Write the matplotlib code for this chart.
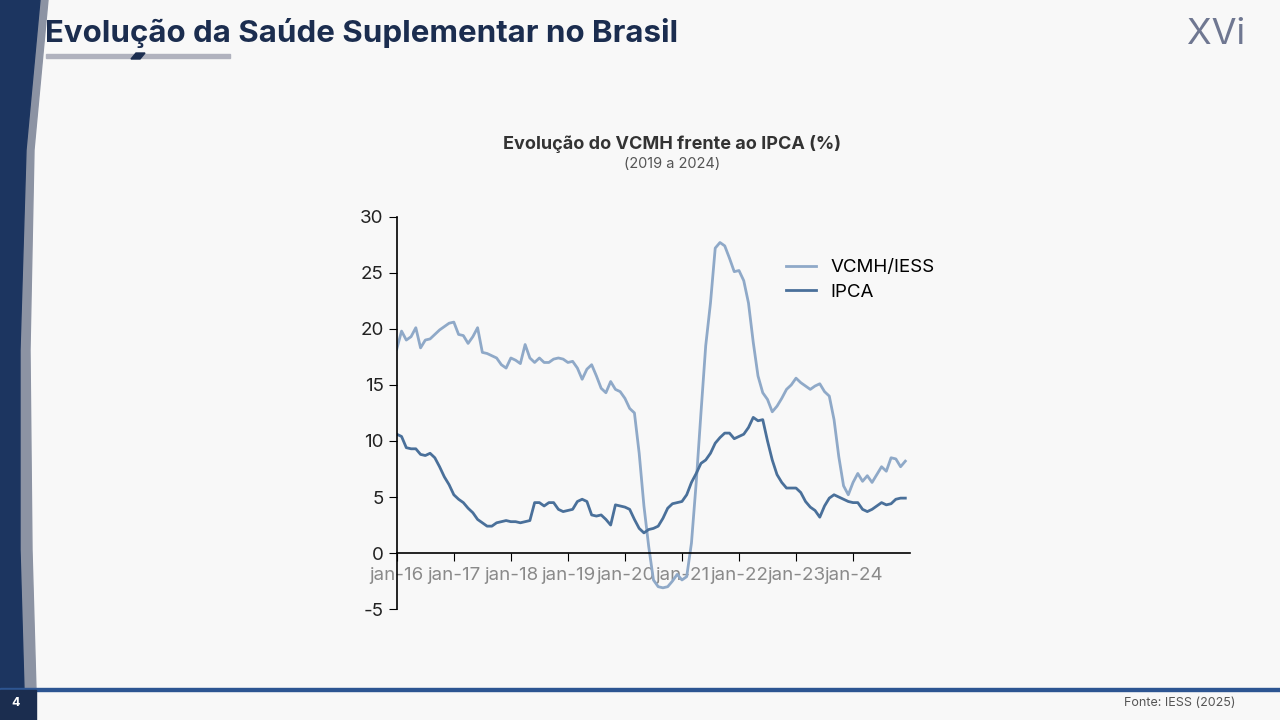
import matplotlib
matplotlib.use("Agg")
import matplotlib.pyplot as plt
from matplotlib.patches import Polygon, Rectangle
import numpy as np

plt.rcParams["axes.unicode_minus"] = False

tick_labels = ["jan-16","jan-17","jan-18","jan-19","jan-20","jan-21","jan-22","jan-23","jan-24"]
vcmh = [18.2,19.8,19.0,19.3,20.1,18.3,19.0,19.1,19.5,19.9,20.2,20.5,
        20.6,19.5,19.4,18.7,19.3,20.1,17.9,17.8,17.6,17.4,16.8,16.5,
        17.4,17.2,16.9,18.6,17.4,17.0,17.4,17.0,17.0,17.3,17.4,17.3,
        17.0,17.1,16.5,15.5,16.4,16.8,15.8,14.7,14.3,15.3,14.6,14.4,
        13.8,12.9,12.5,8.9,4.2,0.6,-2.4,-3.0,-3.1,-3.0,-2.5,-1.9,
        -2.4,-2.1,0.9,6.3,12.5,18.5,22.3,27.2,27.7,27.4,26.3,25.1,
        25.2,24.3,22.3,18.8,15.8,14.3,13.7,12.6,13.1,13.8,14.6,15.0,
        15.6,15.2,14.9,14.6,14.9,15.1,14.4,14.0,11.9,8.6,6.0,5.2,
        6.3,7.1,6.4,6.9,6.3,7.0,7.7,7.3,8.5,8.4,7.7,8.2]
ipca = [10.6,10.4,9.4,9.3,9.3,8.8,8.7,8.9,8.5,7.7,6.8,6.1,
        5.2,4.8,4.5,4.0,3.6,3.0,2.7,2.4,2.4,2.7,2.8,2.9,
        2.8,2.8,2.7,2.8,2.9,4.5,4.5,4.2,4.5,4.5,3.9,3.7,
        3.8,3.9,4.6,4.8,4.6,3.4,3.3,3.4,3.0,2.5,4.3,4.2,
        4.1,3.9,3.0,2.2,1.8,2.1,2.2,2.4,3.1,4.0,4.4,4.5,
        4.6,5.2,6.3,7.1,8.0,8.3,8.9,9.8,10.3,10.7,10.7,10.2,
        10.4,10.6,11.2,12.1,11.8,11.9,10.0,8.3,7.0,6.3,5.8,5.8,
        5.8,5.4,4.6,4.1,3.8,3.2,4.2,4.9,5.2,5.0,4.8,4.6,
        4.5,4.5,3.9,3.7,3.9,4.2,4.5,4.3,4.4,4.8,4.9,4.9]

FONT = ["Inter", "DejaVu Sans"]
NAVY = "#1b2d4f"

fig = plt.figure(figsize=(12.8, 7.2), dpi=100)
fig.patch.set_facecolor("#f7f7f7")

bg = fig.add_axes([0, 0, 1, 1], zorder=-5)
bg.set_xlim(0, 1280); bg.set_ylim(720, 0); bg.axis("off")
bg.add_patch(Rectangle((0, 0), 1280, 720, color="#f8f8f8"))
bg.add_patch(Polygon([[0, 0], [48, 0], [34, 150], [30, 350], [32, 550], [36, 690], [0, 690]],
                     closed=True, color="#8c93a3"))
bg.add_patch(Polygon([[0, 0], [40, 0], [26, 150], [20, 350], [20, 550], [24, 690], [0, 690]],
                     closed=True, color="#1c3560"))
bg.add_patch(Rectangle((0, 688), 1280, 3, color="#2d5592"))
bg.add_patch(Rectangle((0, 690), 36, 30, color=NAVY))
bg.text(16, 703, "4", color="white", fontsize=9, fontweight="bold", ha="center", va="center", family=FONT)
bg.text(1235, 703, "Fonte: IESS (2025)", color="#555555", fontsize=9, ha="right", va="center", family=FONT)
bg.text(45, 33, "Evolução da Saúde Suplementar no Brasil", color=NAVY, fontsize=22.5,
        fontweight="bold", ha="left", va="center", family=FONT)
bg.add_patch(Rectangle((46, 54), 184, 4, color="#b0b2be"))
bg.add_patch(Polygon([[131, 59], [136, 53], [145, 53], [140, 59]], color=NAVY))
bg.text(1245, 35, "XVi", color="#6f7791", fontsize=26, ha="right", va="center", family=FONT)
bg.text(672, 144, "Evolução do VCMH frente ao IPCA (%)", color="#333333", fontsize=13,
        fontweight="bold", ha="center", va="center", family=FONT)
bg.text(672, 164, "(2019 a 2024)", color="#555555", fontsize=10.5, ha="center", va="center", family=FONT)

ax = fig.add_axes([0.310, 0.154, 0.401, 0.545])
ax.set_facecolor("none")
x = np.arange(len(vcmh))
ax.plot(x, vcmh, color="#8fa9c8", lw=2, label="VCMH/IESS")
ax.plot(x, ipca, color="#4a709a", lw=2, label="IPCA")
ax.set_xlim(0, 108)
ax.set_ylim(-5, 30)
ax.set_yticks(range(-5, 31, 5))
ax.set_xticks(np.arange(0, 108, 12))
ax.set_xticklabels(tick_labels)
for s in ["top", "right"]:
    ax.spines[s].set_visible(False)
ax.spines["bottom"].set_position(("data", 0))
ax.spines["left"].set_linewidth(1.2)
ax.spines["bottom"].set_linewidth(1.2)
ax.tick_params(axis="x", direction="out", length=6, colors="black", labelcolor="#8a8a8a",
               labelsize=13.5, pad=4)
ax.tick_params(axis="y", direction="out", length=6, labelsize=13.5, labelcolor="#222222")
for t in ax.get_xticklabels() + ax.get_yticklabels():
    t.set_family(FONT)
ax.legend(loc="upper left", bbox_to_anchor=(0.725, 0.935), frameon=False,
          prop={"family": FONT, "size": 13.5}, handlelength=1.6, labelspacing=0.4)

fig.savefig("out.png", dpi=100, facecolor=fig.get_facecolor())
